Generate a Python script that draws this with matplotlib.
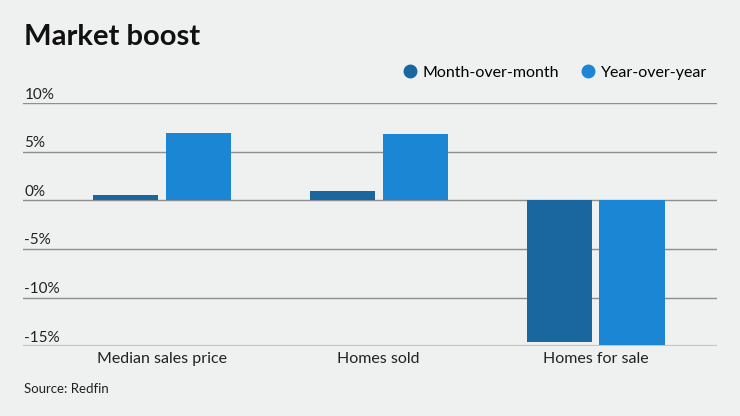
import matplotlib.pyplot as plt
import numpy as np
from matplotlib.lines import Line2D
import matplotlib.transforms as mtransforms

categories = ["Median sales price", "Homes sold", "Homes for sale"]
month_over_month = [0.5, 1.0, -14.6]
year_over_year = [6.9, 6.8, -14.9]
yticks = [10, 5, 0, -5, -10, -15]
series_names = ["Month-over-month", "Year-over-year"]

c_mom = "#1a67a0"
c_yoy = "#1b87d4"
bg = "#eff0f0"

plt.rcParams['font.family'] = ['Lato', 'DejaVu Sans']

fig = plt.figure(figsize=(7.4, 4.16), dpi=100, facecolor=bg)
ax = fig.add_axes([0.031, 0.168, 0.938, 0.584], facecolor=bg)

x = np.arange(len(categories))
w = 0.30
off = 0.168
ax.bar(x - off, month_over_month, w, color=c_mom, zorder=3)
ax.bar(x + off, year_over_year, w, color=c_yoy, zorder=3)

ax.set_xlim(-0.64, 2.56)
ax.set_ylim(-15, 10)

# grid lines with labels sitting on top of them
for t in yticks:
    col = "#c4c4c4" if t == -15 else "#8f8f8f"
    lw = 1.6 if t == -15 else 1.0
    ax.axhline(t, color=col, lw=lw, zorder=1)
trans = mtransforms.blended_transform_factory(fig.transFigure, ax.transData)
for t in yticks:
    ax.text(0.033, t + 0.15, "%d%%" % t, transform=trans, fontsize=11,
            color="#222222", ha="left", va="bottom")

for s in ax.spines.values():
    s.set_visible(False)
ax.set_yticks([])
ax.set_xticks(x)
ax.set_xticklabels(categories, fontsize=11.5, color="#222222")
ax.tick_params(axis="x", length=0, pad=4)

fig.text(0.033, 0.91, "Market boost", fontsize=21, fontweight="bold",
         color="#111111", ha="left", va="center")
fig.text(0.033, 0.065, "Source: Redfin", fontsize=9.5, color="#222222",
         ha="left", va="center")

handles = [Line2D([], [], marker="o", ls="", color=c, markersize=9) for c in [c_mom, c_yoy]]
fig.legend(handles, series_names, loc="center right", bbox_to_anchor=(0.975, 0.825),
           ncol=2, frameon=False, fontsize=11.5, handletextpad=0.3,
           columnspacing=1.3, handlelength=1.0)

fig.savefig("out.png", dpi=100, facecolor=bg)
